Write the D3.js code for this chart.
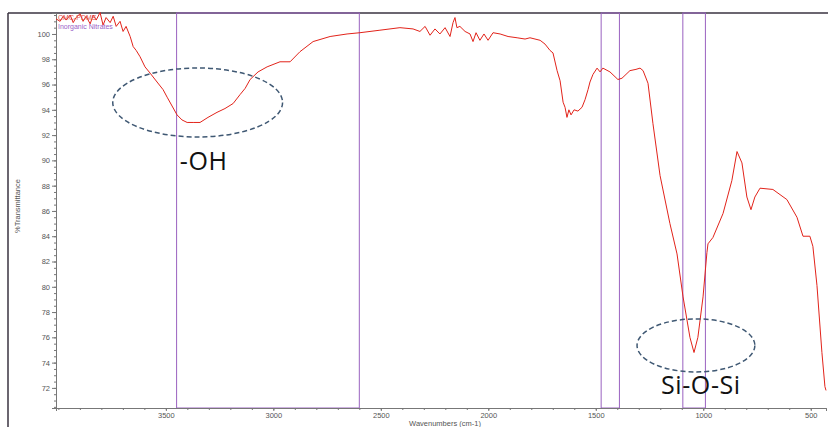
<!DOCTYPE html>
<html>
<head>
<meta charset="utf-8">
<script src="https://cdn.jsdelivr.net/npm/d3@7"></script>
<style>
  body { margin: 0; background: #fff; }
</style>
</head>
<body>
<div id="chart"></div>
<script>
// Spectrum: wavenumber (cm-1) and %T
const wavenumbers = [4011, 3992, 3978, 3964, 3945, 3931, 3918, 3899, 3885, 3871, 3852, 3838, 3824, 3806, 3792, 3778, 3759, 3745, 3731, 3713, 3699, 3685, 3666, 3652, 3638, 3620, 3597, 3573, 3541, 3513, 3494, 3471, 3448, 3425, 3401, 3373, 3341, 3304, 3262, 3225, 3187, 3155, 3131, 3108, 3071, 3029, 2969, 2922, 2876, 2815, 2736, 2657, 2597, 2504, 2411, 2350, 2318, 2294, 2271, 2248, 2225, 2201, 2178, 2164, 2155, 2146, 2132, 2108, 2085, 2071, 2057, 2039, 2020, 2001, 1978, 1945, 1908, 1866, 1829, 1806, 1759, 1736, 1713, 1699, 1680, 1666, 1652, 1643, 1634, 1625, 1615, 1601, 1583, 1564, 1550, 1536, 1527, 1513, 1494, 1480, 1467, 1434, 1397, 1378, 1341, 1313, 1294, 1280, 1257, 1234, 1201, 1155, 1122, 1094, 1062, 1043, 1025, 1001, 983, 978, 955, 908, 867, 843, 820, 797, 778, 760, 736, 676, 611, 564, 536, 504, 490, 471, 448, 434, 429];
const transmittance = [101.2, 101.0, 101.4, 101.1, 101.5, 100.9, 101.3, 101.6, 101.0, 101.4, 100.8, 101.5, 101.1, 101.7, 100.7, 101.3, 100.9, 101.4, 100.6, 101.0, 100.2, 100.6, 99.8, 99.0, 98.7, 98.2, 97.4, 96.9, 96.2, 95.6, 95.0, 94.3, 93.6, 93.2, 93.0, 93.0, 93.0, 93.4, 93.8, 94.1, 94.5, 95.2, 95.7, 96.4, 97.0, 97.4, 97.8, 97.8, 98.6, 99.4, 99.8, 100.0, 100.1, 100.3, 100.5, 100.4, 100.2, 100.6, 99.9, 100.4, 100.0, 100.5, 99.8, 100.9, 101.3, 100.5, 100.6, 100.2, 100.0, 99.4, 100.1, 99.5, 100.0, 99.5, 100.1, 100.0, 99.8, 99.7, 99.6, 99.7, 99.5, 99.2, 98.7, 98.5, 97.1, 96.3, 94.6, 94.2, 93.4, 94.0, 93.6, 94.0, 93.9, 94.2, 94.8, 95.6, 96.2, 96.8, 97.3, 97.0, 97.3, 97.0, 96.4, 96.5, 97.1, 97.2, 97.3, 97.1, 96.1, 92.9, 88.8, 85.0, 82.6, 79.2, 76.0, 74.8, 76.0, 79.2, 82.7, 83.4, 83.9, 85.8, 88.4, 90.7, 89.8, 87.1, 86.1, 87.1, 87.8, 87.7, 86.9, 85.5, 84.0, 84.0, 83.2, 80.1, 74.8, 72.1, 71.8];

// Marked regions (left, right wavenumber)
const regions = [[3450, 2600], [1475, 1390], [1095, 990]];

const xTicks = [3500, 3000, 2500, 2000, 1500, 1000, 500];
const yTicks = [72, 74, 76, 78, 80, 82, 84, 86, 88, 90, 92, 94, 96, 98, 100];

// Annotated bands: ellipse centre/radii and label position, in data units
const bands = [
  {label: "-OH", w: 3352, t: 94.58, rw: 395, rt: 2.73, lw: 3324, lt: 89.24},
  {label: "Si-O-Si", w: 1034, t: 75.36, rw: 274, rt: 2.1, lw: 1011, lt: 71.52}
];

const legend = [
  {text: "CMC-PDMS", color: "#e0504a"},
  {text: "Inorganic Nitrates", color: "#9a5fc8"}
];

const W = 828, H = 427;
const plot = {left: 56, right: 826, top: 13, bottom: 408};
const font = "'Liberation Sans', Arial, sans-serif";

const svg = d3.select("#chart").append("svg")
    .attr("width", W)
    .attr("height", H)
    .style("font-family", font);

const x = d3.scaleLinear()
    .domain([4011, 429])
    .range([plot.left, plot.right]);

const y = d3.scaleLinear()
    .domain([70.41, 101.66])
    .range([plot.bottom, plot.top]);

// outer frame
svg.append("line")
    .attr("x1", 8).attr("x2", W).attr("y1", 13).attr("y2", 13)
    .attr("stroke", "#3a3340").attr("stroke-width", 1.5);
svg.append("line")
    .attr("x1", 8).attr("x2", 8).attr("y1", 13).attr("y2", H)
    .attr("stroke", "#3a3340").attr("stroke-width", 1.5);

// region boxes
svg.append("g").selectAll("rect")
    .data(regions)
    .join("rect")
    .attr("x", d => x(d[0]))
    .attr("y", plot.top)
    .attr("width", d => x(d[1]) - x(d[0]))
    .attr("height", plot.bottom - plot.top)
    .attr("fill", "none")
    .attr("stroke", "#9a62c0")
    .attr("stroke-width", 1);

// y axis
const yAxis = svg.append("g")
    .attr("transform", `translate(${plot.left},0)`)
    .call(d3.axisLeft(y).tickValues(yTicks).tickSize(4).tickPadding(2));
yAxis.append("g")
    .call(d3.axisLeft(y).tickValues(d3.range(70.5, 101.6, 0.5)).tickSize(2).tickFormat(""));

// x axis
const xAxis = svg.append("g")
    .attr("transform", `translate(0,${plot.bottom})`)
    .call(d3.axisBottom(x).tickValues(xTicks).tickSize(3).tickPadding(2).tickFormat(d3.format("d")));
xAxis.append("g")
    .call(d3.axisBottom(x).tickValues(d3.range(500, 4001, 100)).tickSize(2).tickFormat(""));

svg.selectAll(".domain").attr("stroke", "#777");
svg.selectAll(".tick line").attr("stroke", "#777");
svg.selectAll(".tick text")
    .attr("fill", "#555")
    .style("font-family", font)
    .style("font-size", "7.5px");

svg.append("text")
    .attr("x", 445).attr("y", 426)
    .attr("text-anchor", "middle")
    .attr("font-size", 7.5).attr("fill", "#555")
    .text("Wavenumbers (cm-1)");

svg.append("text")
    .attr("transform", `translate(20,206) rotate(-90)`)
    .attr("text-anchor", "middle")
    .attr("font-size", 7.5).attr("fill", "#555")
    .text("%Transmittance");

// spectrum
const line = d3.line()
    .x((d, i) => x(wavenumbers[i]))
    .y(d => y(d));

svg.append("path")
    .datum(transmittance)
    .attr("d", line)
    .attr("fill", "none")
    .attr("stroke", "#e2231a")
    .attr("stroke-width", 1)
    .attr("stroke-linejoin", "round");

// legend
svg.append("g").selectAll("text")
    .data(legend)
    .join("text")
    .attr("x", 58)
    .attr("y", (d, i) => 20 + i * 9)
    .attr("font-size", 7)
    .attr("fill", d => d.color)
    .text(d => d.text);

// band annotations
svg.append("g").selectAll("ellipse")
    .data(bands)
    .join("ellipse")
    .attr("cx", d => x(d.w))
    .attr("cy", d => y(d.t))
    .attr("rx", d => x(d.w - d.rw) - x(d.w))
    .attr("ry", d => y(d.t - d.rt) - y(d.t))
    .attr("fill", "none")
    .attr("stroke", "#3f5873")
    .attr("stroke-width", 1.5)
    .attr("stroke-dasharray", "5,3");

svg.append("g").selectAll("text")
    .data(bands)
    .join("text")
    .attr("x", d => x(d.lw))
    .attr("y", d => y(d.lt))
    .attr("text-anchor", "middle")
    .style("font-family", "'Open Sans', sans-serif")
    .style("font-size", "25px")
    .style("letter-spacing", "0.6px")
    .attr("fill", "#111")
    .text(d => d.label);
</script>
</body>
</html>
